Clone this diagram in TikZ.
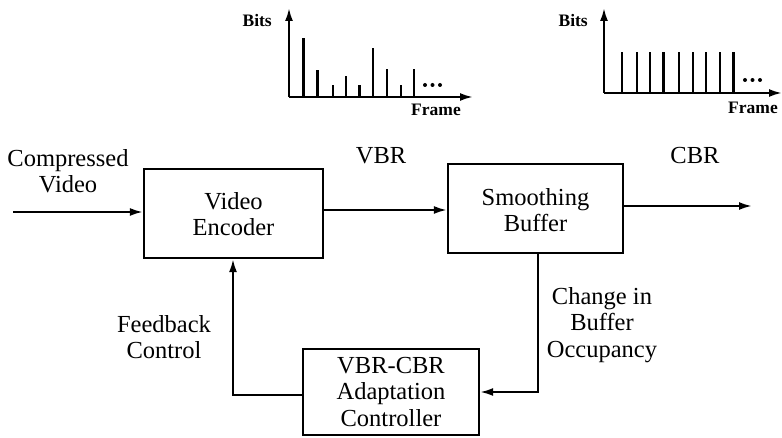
\documentclass[tikz,border=0pt]{standalone}
\usepackage{fontspec}
\setmainfont{Liberation Serif}
\usetikzlibrary{arrows.meta}
\begin{document}
\begin{tikzpicture}[x=1pt,y=-1pt,
  blk/.style={draw,line width=2.2pt,inner sep=0pt},
  lbl/.style={align=center,font=\fontsize{24.5}{26.5}\selectfont,inner sep=0pt},
  axlbl/.style={font=\fontsize{17.5}{19}\selectfont\bfseries,inner sep=0pt},
  conn/.style={line width=2.2pt,-{Latex[length=13pt,width=8pt]}},
  ax/.style={line width=2.2pt,-{Latex[length=13pt,width=8pt]}},
  bar/.style={line width=2.4pt}]
\useasboundingbox (0,0) rectangle (782,438);
% blocks
\node[blk,minimum width=179pt,minimum height=89pt] (enc) at (233.5,213.5) {};
\node[lbl] at (233.5,214) {Video\\Encoder};
\node[blk,minimum width=175pt,minimum height=89pt] (buf) at (535.5,208.5) {};
\node[lbl] at (535.5,210) {Smoothing\\Buffer};
\node[blk,minimum width=176pt,minimum height=86pt] (ctl) at (391,392) {};
\node[lbl] at (391,392) {VBR-CBR\\Adaptation\\Controller};
% labels
\node[lbl] (cv) at (68,171) {Compressed\\Video};
\node[lbl] (vbr) at (381,156) {VBR};
\node[lbl] (cbr) at (695,156) {CBR};
\node[lbl] (fb) at (164,337) {Feedback\\Control};
\node[lbl] (chg) at (602,325) {Change in\\Buffer\\Occupancy};
% connectors
\coordinate (in) at (13,212);
\coordinate (out) at (752,206);
\draw[conn] (in) -- (enc.west |- in);
\draw[conn] (enc.east |- 0,210) -- (buf.west |- 0,210);
\draw[conn] (buf.east |- out) -- (out);
\draw[conn] (buf.south -| 538,0) |- (ctl.east |- 0,392);
\draw[conn] (ctl.west |- 0,395) -| (enc.south -| 233,0);
% left chart
\coordinate (lo) at (289,97);
\draw[ax] (lo) -- (289,8);
\draw[ax] (lo) -- (473,97);
\foreach \x/\y in {303.3/38.3,317.3/70,332.7/85,346/76,359.3/85.3,372.7/47.7,386.7/69.3,400.7/85,414/69}
  \draw[bar] (\x,97) -- (\x,\y);
\foreach \x in {425,432.5,440} \fill (\x,85) circle (2pt);
\node[axlbl,anchor=east] (lb1) at (272,21) {Bits};
\node[axlbl] (lf1) at (436,110) {Frame};
% right chart
\coordinate (ro) at (604,93);
\draw[ax] (ro) -- (604,8);
\draw[ax] (ro) -- (782,93);
\foreach \x in {621.7,636.7,650,663.3,679,692.7,706,720,733.3}
  \draw[bar] (\x,93) -- (\x,52);
\foreach \x in {745,752.5,760} \fill (\x,80) circle (2pt);
\node[axlbl,anchor=east] (lb2) at (588,21) {Bits};
\node[axlbl] (lf2) at (753,108) {Frame};
\end{tikzpicture}
\end{document}
